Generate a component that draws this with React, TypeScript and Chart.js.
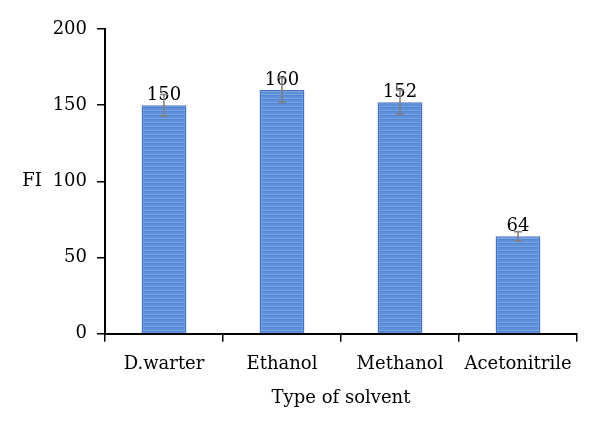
import React, { useEffect, useRef } from "react";
import { Chart, registerables } from "chart.js";

Chart.register(...registerables);

const categories = ["D.warter", "Ethanol", "Methanol", "Acetonitrile"];
const fiValues = [150, 160, 152, 64];
const fiErrors = [7, 8, 8, 3];
const yTicks = [0, 50, 100, 150, 200];

const FONT = "'DejaVu Serif', serif";
const FSIZE = 18;

function makeStripePattern(): CanvasPattern | string {
  const c = document.createElement("canvas");
  c.width = 4;
  c.height = 4;
  const ctx = c.getContext("2d");
  if (!ctx) return "#5b8ed8";
  ctx.fillStyle = "#5f91da";
  ctx.fillRect(0, 0, 4, 2);
  ctx.fillStyle = "#76a3e4";
  ctx.fillRect(0, 2, 4, 1);
  ctx.fillStyle = "#5486d3";
  ctx.fillRect(0, 3, 4, 1);
  const p = ctx.createPattern(c, "repeat");
  return p || "#5b8ed8";
}

const overlayPlugin = {
  id: "overlay",
  afterDatasetsDraw(chart: any) {
    const ctx = chart.ctx;
    const meta = chart.getDatasetMeta(0);
    const yScale = chart.scales.y;
    ctx.save();
    ctx.fillStyle = "#000";
    ctx.font = `${FSIZE}px ${FONT}`;
    ctx.textAlign = "center";
    ctx.textBaseline = "bottom";
    meta.data.forEach((bar: any, i: number) => {
      ctx.fillText(String(fiValues[i]), bar.x, bar.y - 1);
    });
    ctx.strokeStyle = "#7f7f7f";
    ctx.lineWidth = 1.5;
    meta.data.forEach((bar: any, i: number) => {
      const top = yScale.getPixelForValue(fiValues[i] + fiErrors[i]);
      const bot = yScale.getPixelForValue(fiValues[i] - fiErrors[i]);
      ctx.beginPath();
      ctx.moveTo(bar.x, top);
      ctx.lineTo(bar.x, bot);
      ctx.moveTo(bar.x - 4, top);
      ctx.lineTo(bar.x + 4, top);
      ctx.moveTo(bar.x - 4, bot);
      ctx.lineTo(bar.x + 4, bot);
      ctx.stroke();
    });
    ctx.fillStyle = "#000";
    ctx.font = `${FSIZE}px ${FONT}`;
    ctx.textAlign = "center";
    ctx.textBaseline = "middle";
    ctx.fillText("FI", 32, yScale.getPixelForValue(100));
    ctx.restore();
  },
};

export default function App() {
  const ref = useRef<HTMLCanvasElement>(null);
  useEffect(() => {
    document.body.style.margin = "0";
    if (!ref.current) return;
    const chart = new Chart(ref.current, {
      type: "bar",
      data: {
        labels: categories,
        datasets: [
          {
            data: fiValues,
            backgroundColor: makeStripePattern() as any,
            borderColor: "#4674c2",
            borderWidth: 1.5,
            barPercentage: 0.38,
            categoryPercentage: 1,
          },
        ],
      },
      options: {
        responsive: false,
        animation: false,
        layout: { padding: { top: 29, right: 23, bottom: 21, left: 0 } },
        plugins: {
          legend: { display: false },
          tooltip: { enabled: false },
        },
        scales: {
          x: {
            grid: {
              display: true,
              drawOnChartArea: false,
              drawTicks: true,
              tickLength: 8,
              color: "#000",
              lineWidth: 1.5,
              offset: true,
            },
            border: { display: true, color: "#000", width: 2 },
            ticks: {
              color: "#000",
              font: { family: FONT, size: FSIZE },
              padding: 12,
              autoSkip: false,
              maxRotation: 0,
              minRotation: 0,
            },
            title: {
              display: true,
              text: "Type of solvent",
              color: "#000",
              font: { family: FONT, size: FSIZE },
              padding: { top: 0, bottom: 0 },
            },
          },
          y: {
            min: 0,
            max: 200,
            afterFit: (s: any) => {
              s.width = 105;
            },
            afterBuildTicks: (s: any) => {
              s.ticks = yTicks.map((v) => ({ value: v }));
            },
            grid: {
              display: true,
              drawOnChartArea: false,
              drawTicks: true,
              tickLength: 8,
              color: "#000",
              lineWidth: 1.5,
            },
            border: { display: true, color: "#000", width: 2 },
            ticks: {
              color: "#000",
              font: { family: FONT, size: FSIZE },
              padding: 10,
            },
          },
        },
      },
      plugins: [overlayPlugin],
    });
    return () => chart.destroy();
  }, []);
  return (
    <div style={{ width: 600, height: 430 }}>
      <canvas ref={ref} width={600} height={430} />
    </div>
  );
}
